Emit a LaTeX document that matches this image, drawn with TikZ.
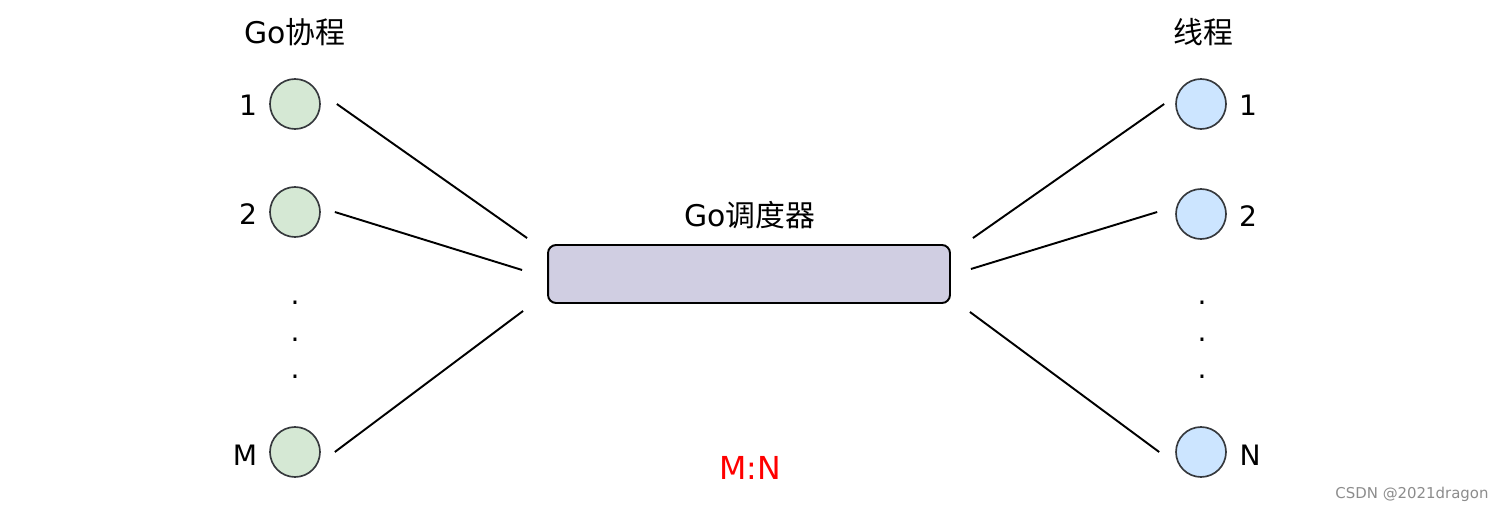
\documentclass[tikz,border=0pt]{standalone}
\usepackage{fontspec}
\setmainfont{DejaVu Sans}
\newfontfamily\cjk{Noto Sans CJK SC}
\definecolor{goGreen}{HTML}{D5E8D4}
\definecolor{thBlue}{HTML}{CCE5FF}
\definecolor{schedFill}{HTML}{D0CEE2}
\definecolor{edgeGray}{HTML}{36393D}
\tikzset{
  gor/.style={circle, draw=edgeGray, fill=goGreen, line width=0.95pt, minimum size=1.0cm, inner sep=0pt},
  thr/.style={gor, fill=thBlue},
  lbl/.style={font=\fontsize{16}{19}\selectfont},
  ttl/.style={font=\fontsize{17}{20}\selectfont},
  link/.style={line width=1.1pt},
}

\begin{document}
\begin{tikzpicture}[x=0.02cm, y=-0.02cm]
    \useasboundingbox (0,0) rectangle (1500,513);

    % 1. Go协程 (left column)
    \node[ttl] (gtitle) at (295,32) {Go{\cjk 协程}};
    \node[gor] (g1) at (295,104) {};
    \node[gor] (g2) at (295,212) {};
    \node[gor] (gm) at (295,452) {};
    \node[lbl] (gl1) at (248,105) {1};
    \node[lbl] (gl2) at (248,214) {2};
    \node[lbl] (glm) at (245,455) {M};
    \foreach \y in {303,340,377}
        \node[lbl] (gd\y) at (295,\y) {.};

    % 2. 线程 (right column)
    \node[ttl] (ttitle) at (1203,32) {\cjk 线程};
    \node[thr] (t1) at (1201,104) {};
    \node[thr] (t2) at (1201,214) {};
    \node[thr] (tn) at (1201,452) {};
    \node[lbl] (tl1) at (1248,105) {1};
    \node[lbl] (tl2) at (1248,216) {2};
    \node[lbl] (tln) at (1250,455) {N};
    \foreach \y in {303,340,377}
        \node[lbl] (td\y) at (1202,\y) {.};

    % 3. Go调度器 in the middle
    \node[draw, line width=1.1pt, fill=schedFill, rounded corners=0.16cm,
          minimum width=8.04cm, minimum height=1.16cm] (sched) at (749,274) {};
    \node[ttl] (stitle) at (750,215) {Go{\cjk 调度器}};

    % 4. Verbindungen links
    \draw[link] ([xshift=0.32cm]g1.east) -- ([shift={(-0.4cm,0.12cm)}]sched.north west);
    \draw[link] ([xshift=0.28cm]g2.east) -- ([shift={(-0.5cm,0.08cm)}]sched.west);
    \draw[link] ([xshift=0.28cm]gm.east) -- ([shift={(-0.48cm,-0.14cm)}]sched.south west);

    % 5. Verbindungen rechts
    \draw[link] ([shift={(0.44cm,0.12cm)}]sched.north east) -- ([xshift=-0.22cm]t1.west);
    \draw[link] ([shift={(0.4cm,0.1cm)}]sched.east) -- ([shift={(-0.36cm,0.04cm)}]t2.west);
    \draw[link] ([shift={(0.38cm,-0.16cm)}]sched.south east) -- ([xshift=-0.32cm]tn.west);

    % 6. Verhaeltnis und Wasserzeichen
    \node[text=red, font=\fontsize{18}{21}\selectfont] (ratio) at (750,468) {M:N};
    \node[text=black!45, font=\fontsize{8.5}{10}\selectfont] (mark) at (1412,494) {CSDN @2021dragon};
\end{tikzpicture}
\end{document}
